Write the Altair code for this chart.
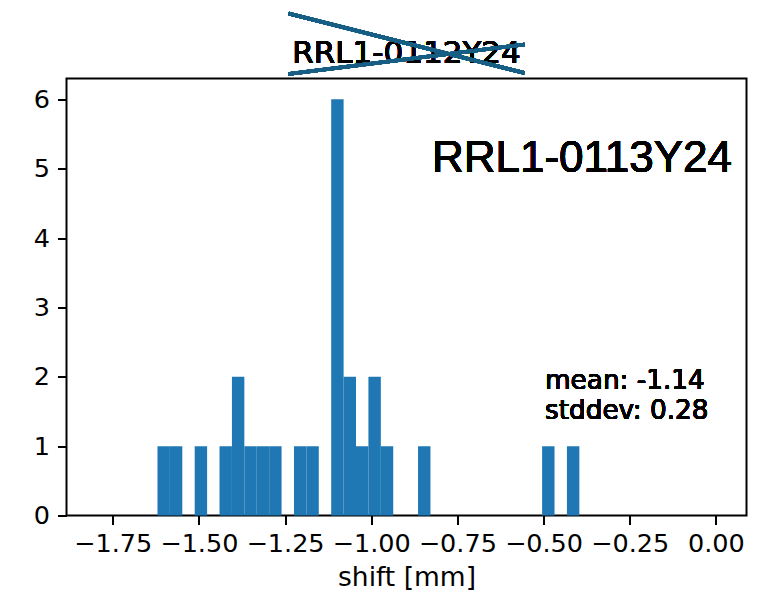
import altair as alt
import pandas as pd

# histogram bins (left edge, count); bin width constant
bin_start = [-1.62, -1.584, -1.512, -1.44, -1.404, -1.368, -1.332, -1.296,
             -1.224, -1.188, -1.116, -1.08, -1.044, -1.008, -0.972, -0.864,
             -0.504, -0.432]
counts = [1, 1, 1, 1, 2, 1, 1, 1, 1, 1, 6, 2, 1, 2, 1, 1, 1, 1]
bin_width = 0.036
x_ticks = [-1.75, -1.5, -1.25, -1.0, -0.75, -0.5, -0.25, 0.0]
y_ticks = [0, 1, 2, 3, 4, 5, 6]
old_name = "RRL1-0112Y24"
new_name = "RRL1-0113Y24"
mean_val = -1.14
std_val = 0.28

df = pd.DataFrame({"start": bin_start, "count": counts})

W, H = 680, 437
FONT = "DejaVu Sans"

bars = alt.Chart(df).transform_calculate(
    end=f"datum.start + {bin_width}"
).mark_rect(color="#1f77b4").encode(
    x=alt.X("start:Q",
            scale=alt.Scale(domain=[-1.884, 0.089], nice=False, zero=False),
            axis=alt.Axis(values=x_ticks, format=".2f", title="shift [mm]",
                          grid=False, domain=False, tickColor="black",
                          tickSize=9, tickWidth=2, labelFont=FONT, labelFontSize=25.5,
                          labelColor="black", labelPadding=7, labelFlush=False,
                          titleFont=FONT, titleFontSize=26.5, titleFontWeight="normal",
                          titleColor="black", titlePadding=7)),
    x2="end:Q",
    y=alt.Y("count:Q",
            scale=alt.Scale(domain=[0, 6.3], nice=False),
            axis=alt.Axis(values=y_ticks, format="d", title=None, grid=False,
                          domain=False, tickColor="black", tickSize=9, tickWidth=2,
                          labelFont=FONT, labelFontSize=25.5, labelColor="black",
                          labelPadding=8, labelFlush=False)),
    y2=alt.datum(0),
)

# old name as title, crossed out by two lines
title_text = alt.Chart(df).mark_text(
    text=old_name, font=FONT, fontSize=31, align="center",
    baseline="alphabetic", color="black"
).encode(x=alt.value(W / 2), y=alt.value(-16))

cross1 = alt.Chart(df).mark_rule(color="#175e84", strokeWidth=3.5).encode(
    x=alt.value(222), x2=alt.value(458), y=alt.value(-65), y2=alt.value(-5.5)
)
cross2 = alt.Chart(df).mark_rule(color="#175e84", strokeWidth=3.5).encode(
    x=alt.value(222), x2=alt.value(458), y=alt.value(-4.5), y2=alt.value(-34)
)

big_label = alt.Chart(df).mark_text(
    text=new_name, font="Liberation Sans", fontSize=44, align="right",
    baseline="alphabetic", color="black"
).encode(x=alt.value(665.5), y=alt.value(93.5))

stats = alt.Chart(df).mark_text(
    text=[f"mean: {mean_val:.2f}", f"stddev: {std_val:.2f}"], font=FONT,
    fontSize=26.3, align="left", baseline="alphabetic", lineHeight=30,
    color="black"
).encode(x=alt.value(478.5), y=alt.value(310))

chart = alt.layer(bars, title_text, cross1, cross2, big_label, stats).properties(
    width=W, height=H,
    autosize=alt.AutoSizeParams(type="none"),
    padding={"left": 66.5, "top": 78.5, "right": 28.5, "bottom": 83.5},
    background="white",
).configure_view(stroke="black", strokeWidth=2)

chart.save("out.html", embed_options={"renderer": "svg", "actions": False})
